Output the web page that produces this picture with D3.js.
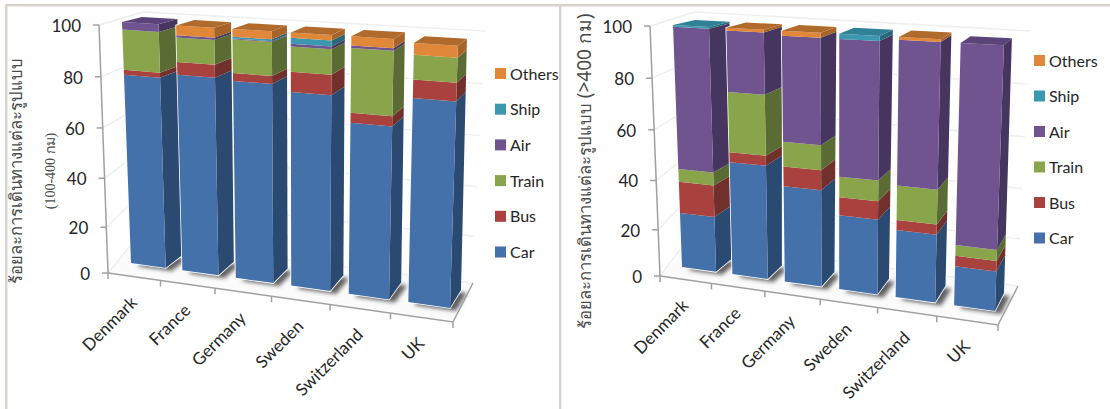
<!DOCTYPE html>
<html>
<head>
<meta charset="utf-8">
<script src="https://cdnjs.cloudflare.com/ajax/libs/d3/7.8.5/d3.min.js"></script>
<style>
  html, body { margin: 0; padding: 0; background: #fff; }
  svg { display: block; }
  text { font-family: Lato, "Open Sans", sans-serif; fill: #262626; }
</style>
</head>
<body>
<svg id="chart" width="1110" height="409"></svg>
<script>
const categories = ["Denmark", "France", "Germany", "Sweden", "Switzerland", "UK"];
const modes = ["Car", "Bus", "Train", "Air", "Ship", "Others"];
const axisTicks = [0, 20, 40, 60, 80, 100];

// Share of trips per mode, one array per mode, in category order (100-400 km)
const shortCar = [79, 80.7, 80, 77.5, 67.7, 78.9];
const shortBus = [2, 5, 3, 7.7, 3.8, 6.8];
const shortTrain = [16, 9.6, 13, 9.5, 24.2, 9];
const shortAir = [3, 0.9, 0.3, 1.1, 0.9, 0];
const shortShip = [0, 0, 0.7, 2.2, 0, 0];
const shortOthers = [0, 3.8, 3, 2, 3.4, 4.3];

// Same breakdown for journeys above 400 km
const longCar = [24, 47.2, 39.8, 30.7, 27.5, 16.1];
const longBus = [13, 4, 7.8, 7.1, 3.9, 4.1];
const longTrain = [5.3, 23.8, 9.7, 8, 13.2, 4.2];
const longAir = [57, 24, 40.8, 52.3, 54.4, 74.6];
const longShip = [0.7, 0, 0, 1.9, 0, 0];
const longOthers = [0, 1, 1.9, 0, 1, 0];

const frontColor = d3.scaleOrdinal(modes, ["#4471a9", "#a9423f", "#8aa44b", "#6f5490", "#3c97af", "#e0873a"]);
const sideColor = d3.scaleOrdinal(modes, ["#2b4a72", "#72302d", "#5a6c33", "#46365f", "#28687a", "#a86428"]);
const topColor = d3.scaleOrdinal(modes, ["#36598a", "#8a3633", "#6f8439", "#5b4479", "#2f8296", "#b06a2c"]);

const svg = d3.select("#chart");
const defs = svg.append("defs");
defs.append("filter").attr("id", "soft").attr("x", "-30%").attr("y", "-30%").attr("width", "160%").attr("height", "160%")
  .append("feGaussianBlur").attr("stdDeviation", 2.2);

// Panel rules
const rule = "#d8d2cd";
svg.append("rect").attr("x", 5).attr("y", 4).attr("width", 1105).attr("height", 2.4).attr("fill", rule);
svg.append("rect").attr("x", 5).attr("y", 4).attr("width", 2.4).attr("height", 405).attr("fill", rule);
svg.append("rect").attr("x", 559).attr("y", 4).attr("width", 2.4).attr("height", 405).attr("fill", rule);

// Trilinear mapping of (u along categories, v up, w into the page) onto screen points
function box(c) {
  const mix = (a, b, t) => [a[0] + (b[0] - a[0]) * t, a[1] + (b[1] - a[1]) * t];
  return (u, v, w) => {
    const fb = mix(c.fbl, c.fbr, u), ft = mix(c.ftl, c.ftr, u);
    const bb = mix(c.bbl, c.bbr, u), bt = mix(c.btl, c.btr, u);
    return mix(mix(fb, ft, v), mix(bb, bt, v), w);
  };
}
const widen = s => s * 0.896 + 0.104 * s * s;
const poly = pts => "M" + pts.map(p => p[0].toFixed(2) + "," + p[1].toFixed(2)).join("L") + "Z";

function drawChart(cfg) {
  const g = svg.append("g");
  const series = d3.stack().keys(modes)(cfg.rows);
  const height = d3.scalePow().exponent(1.05).domain([0, 100]).range([0, 1]);
  const band = d3.scaleBand().domain(categories).range([0, 1]).paddingInner(0.32);
  const slot = d3.scaleBand().domain(categories).range([0, 1]);
  const bar = box(cfg.bars);
  const room = box(cfg.room);

  // Floor
  g.append("path").attr("d", poly([room(0, 0, 0), room(1, 0, 0), room(1, 0, 1), room(0, 0, 1)])).attr("fill", "#fbfbfb");

  // Gridlines along the side and back walls
  axisTicks.forEach(t => {
    const v = height(t);
    g.append("path")
      .attr("d", d3.line()([room(0, v, 0), room(0, v, 1), room(1, v, 1)]))
      .attr("fill", "none").attr("stroke", "#eeeeee").attr("stroke-width", 1.4);
  });

  // Floor shadows under each column
  categories.forEach(c => {
    const a = widen(band(c)), b = widen(band(c) + band.bandwidth());
    g.append("path")
      .attr("d", poly([bar(a, 0, 0), bar(b, 0, 0), bar(b, 0, 1), bar(a, 0, 1)]))
      .attr("transform", "translate(6,3)")
      .attr("fill", "#606060").attr("filter", "url(#soft)");
  });

  // Front floor edge and vertical axis
  g.append("path").attr("d", d3.line()([room(0, 0, 0), room(1, 0, 0), room(1, 0, 1)]))
    .attr("fill", "none").attr("stroke", "#a0a0a0").attr("stroke-width", 1.5);
  g.append("path").attr("d", d3.line()([room(0, 1, 0), room(0, 0, 0)]))
    .attr("fill", "none").attr("stroke", "#a0a0a0").attr("stroke-width", 1.5);

  // Value ticks and labels
  axisTicks.forEach(t => {
    const p = room(0, height(t), 0);
    g.append("line").attr("x1", p[0] - 6).attr("x2", p[0]).attr("y1", p[1]).attr("y2", p[1])
      .attr("stroke", "#a0a0a0").attr("stroke-width", 1.5);
    g.append("text").attr("x", p[0] - 18).attr("y", p[1] + 7).attr("text-anchor", "end")
      .attr("font-size", 17).text(t);
  });

  // Category ticks and slanted labels
  d3.range(categories.length + 1).forEach(i => {
    const p = room(widen(i / categories.length), 0, 0);
    g.append("line").attr("x1", p[0]).attr("x2", p[0]).attr("y1", p[1]).attr("y2", p[1] + 6)
      .attr("stroke", "#a0a0a0").attr("stroke-width", 1.5);
  });
  categories.forEach(c => {
    const p = room(widen(slot(c) + slot.bandwidth() / 2), 0, 0);
    g.append("text")
      .attr("transform", `translate(${p[0] + 4},${p[1] + 27}) rotate(-45)`)
      .attr("text-anchor", "end").attr("font-size", 17).text(c);
  });

  // Columns, left to right, each stacked from the floor up
  categories.forEach((c, i) => {
    const a = widen(band(c)), b = widen(band(c) + band.bandwidth());
    const col = g.append("g");
    const total = d3.sum(modes, m => cfg.rows[i][m]);
    const h = height(total);
    col.append("path")
      .attr("d", poly([bar(a, 0, 0), bar(a, h, 0), bar(a, h, 1), bar(b, h, 1), bar(b, 0, 1), bar(b, 0, 0)]))
      .attr("fill", "#fff").attr("stroke", "#fff").attr("stroke-width", 1.6);
    let last = null;
    series.forEach(s => {
      const [y0, y1] = s[i];
      if (y1 - y0 <= 0) return;
      last = { key: s.key, top: y1 };
      const v0 = height(y0), v1 = height(y1);
      col.append("path").attr("fill", sideColor(s.key))
        .attr("d", poly([bar(b, v0, 0), bar(b, v1, 0), bar(b, v1, 1), bar(b, v0, 1)]));
      col.append("path").attr("fill", frontColor(s.key))
        .attr("d", poly([bar(a, v0, 0), bar(b, v0, 0), bar(b, v1, 0), bar(a, v1, 0)]));
    });
    const v = height(last.top);
    col.append("path").attr("fill", topColor(last.key))
      .attr("d", poly([bar(a, v, 0), bar(b, v, 0), bar(b, v, 1), bar(a, v, 1)]));
  });

  // Legend, listed from the top of the stack down
  const legendY = d3.scalePoint().domain(modes.slice().reverse()).range(cfg.legendY);
  modes.forEach(m => {
    g.append("rect").attr("x", cfg.legendX).attr("y", legendY(m) - 5.5).attr("width", 11).attr("height", 11)
      .attr("fill", frontColor(m));
    g.append("text").attr("x", cfg.legendX + 15).attr("y", legendY(m) + 6).attr("font-size", 16).text(m);
  });

  // Axis titles
  cfg.titles.forEach(t => {
    const label = g.append("text")
      .attr("transform", `translate(${t.x},${t.y}) rotate(-90)`)
      .attr("text-anchor", "middle")
      .style("font-family", t.family)
      .attr("font-size", t.size).style("fill", "#4a4a4a").text(t.text);
    if (t.suffix) label.append("tspan").attr("font-size", t.suffixSize).text(t.suffix);
  });
}

const rowsFrom = (car, bus, train, air, ship, others) => categories.map((c, i) => ({
  Car: car[i], Bus: bus[i], Train: train[i], Air: air[i], Ship: ship[i], Others: others[i]
}));

const thaiFace = '"Noto Sans", "DejaVu Sans", sans-serif';

drawChart({
  rows: rowsFrom(shortCar, shortBus, shortTrain, shortAir, shortShip, shortOthers),
  bars: { fbl: [131, 263], fbr: [450, 308], bbl: [148, 251], bbr: [461, 290], ftl: [122, 22], ftr: [458, 43], btl: [142, 17], btr: [467, 36] },
  room: { fbl: [108, 273], fbr: [453, 322], bbl: [135, 240], bbr: [473, 283], ftl: [99, 25], ftr: [462, 44], btl: [143, 12], btr: [485, 31] },
  legendX: 495, legendY: [73.5, 252],
  titles: [
    { text: "ร้อยละการเดินทางแต่ละรูปแบบ", x: 22, y: 171, size: 16.6, family: thaiFace },
    { text: "(100-400 กม)", x: 55, y: 171, size: 14, family: '"Liberation Serif", serif' }
  ]
});

drawChart({
  rows: rowsFrom(longCar, longBus, longTrain, longAir, longShip, longOthers),
  bars: { fbl: [682, 267], fbr: [995, 311], bbl: [698, 255], bbr: [1004, 293], ftl: [673, 25], ftr: [1004, 42.5], btl: [695, 20], btr: [1012, 35.5] },
  room: { fbl: [660, 276], fbr: [998, 325], bbl: [687, 240], bbr: [1018, 286], ftl: [650, 26], ftr: [1005, 44], btl: [695, 12], btr: [1030, 31] },
  legendX: 1034, legendY: [60.5, 238],
  titles: [
    { text: "ร้อยละการเดินทางแต่ละรูปแบบ ", suffix: "(>400 กม)", suffixSize: 19, x: 591, y: 171, size: 16.6, family: thaiFace }
  ]
});
</script>
</body>
</html>
